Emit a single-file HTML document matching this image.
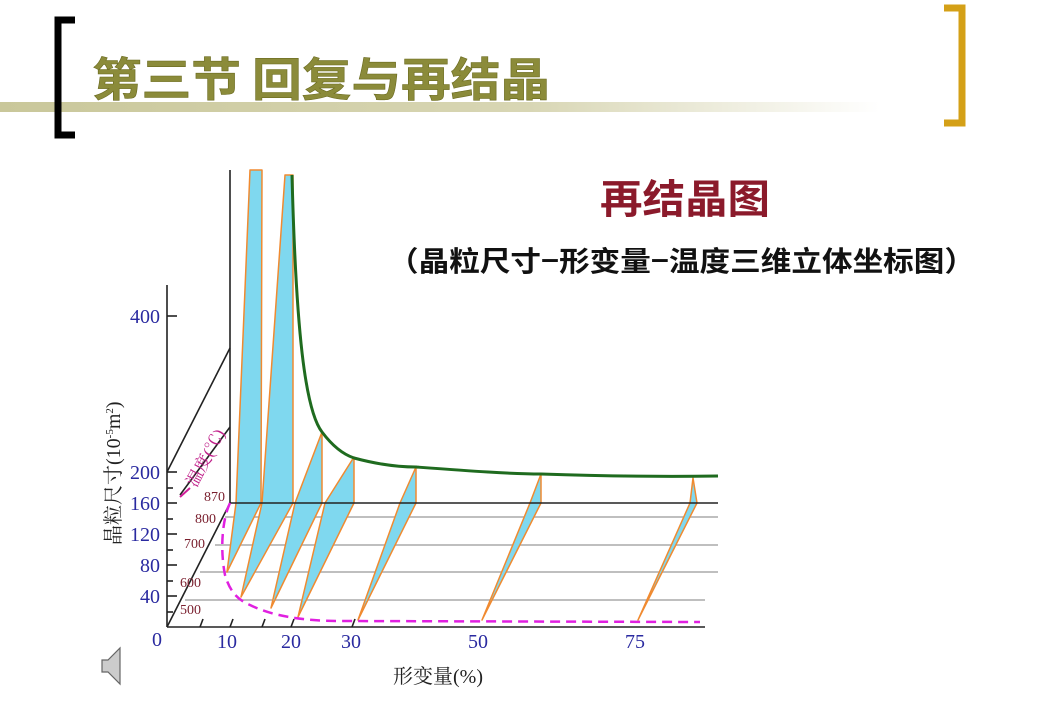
<!DOCTYPE html>
<html><head><meta charset="utf-8"><style>
body{margin:0;width:1040px;height:720px;background:#fff;overflow:hidden;font-family:"Liberation Serif","Noto Serif CJK SC",serif}
</style></head><body>
<svg width="1040" height="720" viewBox="0 0 1040 720" xmlns="http://www.w3.org/2000/svg">
<defs>
<linearGradient id="band" x1="0" x2="1" y1="0" y2="0">
<stop offset="0" stop-color="#c9c79a"/><stop offset="0.6" stop-color="#d8d6b4"/><stop offset="1" stop-color="#ffffff"/>
</linearGradient>
</defs>
<rect x="0" y="102" width="880" height="10" fill="url(#band)"/>
<path d="M75 20 H58 V135 H75" fill="none" stroke="#000" stroke-width="7"/>
<path d="M944 8 H962 V123 H944" fill="none" stroke="#d4a017" stroke-width="7"/>
<text x="92" y="96" font-family="'Noto Sans CJK SC',sans-serif" font-size="46" font-weight="bold" fill="#8b8b3a" stroke="#6b6b20" stroke-width="0.6" textLength="458" lengthAdjust="spacingAndGlyphs">第三节 回复与再结晶</text>
<text x="600" y="213" font-family="'Noto Sans CJK SC',sans-serif" font-size="40" font-weight="bold" fill="#8b1a2b" textLength="170" lengthAdjust="spacingAndGlyphs">再结晶图</text>
<text x="388" y="271" font-family="'Noto Sans CJK SC',sans-serif" font-size="28" font-weight="bold" fill="#111" textLength="587" lengthAdjust="spacingAndGlyphs">（晶粒尺寸−形变量−温度三维立体坐标图）</text>

<g stroke="#aaa" stroke-width="1.5">
<line x1="225" y1="517" x2="718" y2="517"/>
<line x1="215" y1="545" x2="718" y2="545"/>
<line x1="200" y1="572" x2="718" y2="572"/>
<line x1="185" y1="600" x2="705" y2="600"/>
</g>
<g fill="#7fd8ef" stroke="#f08a30" stroke-width="1.5" stroke-linejoin="round">
<polygon points="227,572 236,503 250,170 262,170 261,503"/>
<polygon points="241,597 262,503 285,175 293,175 293,503"/>
<polygon points="271,608 295,503 322,432 322,503"/>
<polygon points="298,617 325,503 354,457 354,503"/>
<polygon points="358,620 400,503 416,467 416,503"/>
<polygon points="482,620 530,503 541,474 541,503"/>
<polygon points="638,620 690,503 693,478 697,503"/>
</g>
<g stroke="#222" stroke-width="1.6" fill="none">
<line x1="167" y1="285" x2="167" y2="627"/>
<line x1="230" y1="170" x2="230" y2="503"/>
<line x1="230" y1="503" x2="718" y2="503"/>
<line x1="167" y1="627" x2="705" y2="627"/>
<line x1="167" y1="627" x2="230" y2="503"/>
<line x1="167" y1="472" x2="230" y2="348"/>
<line x1="180" y1="495" x2="230" y2="427"/>
<line x1="167" y1="316" x2="177" y2="316"/>
<line x1="167" y1="472" x2="177" y2="472"/>
<line x1="167" y1="488" x2="173" y2="488"/>
<line x1="167" y1="503" x2="177" y2="503"/>
<line x1="167" y1="519" x2="173" y2="519"/>
<line x1="167" y1="534" x2="177" y2="534"/>
<line x1="167" y1="550" x2="173" y2="550"/>
<line x1="167" y1="565" x2="177" y2="565"/>
<line x1="167" y1="581" x2="173" y2="581"/>
<line x1="167" y1="596" x2="177" y2="596"/>
<line x1="167" y1="612" x2="173" y2="612"/>
<line x1="200" y1="627" x2="203" y2="619"/>
<line x1="230" y1="627" x2="233" y2="619"/>
<line x1="262" y1="627" x2="265" y2="619"/>
<line x1="291" y1="627" x2="294" y2="619"/>
<line x1="352" y1="627" x2="355" y2="619"/>
</g>
<path d="M292 175 C296 330 305 410 322 432 C334 448 345 455 354 458 C380 465 400 467 416 467 C470 471 510 474 541 474 C600 476 650 477 718 476" fill="none" stroke="#1f6b1f" stroke-width="3"/>
<path d="M230 503 C222 520 220 550 225 575 C230 592 238 600 250 605 C270 615 300 621 340 621 L700 622" fill="none" stroke="#e020e0" stroke-width="2.5" stroke-dasharray="10,6"/>
<line x1="180" y1="497" x2="190" y2="488" stroke="#d0209a" stroke-width="2"/>
<g font-size="20" fill="#2a2aa0">
<text x="130" y="323">400</text>
<text x="130" y="479">200</text>
<text x="130" y="510">160</text>
<text x="130" y="541">120</text>
<text x="140" y="572">80</text>
<text x="140" y="603">40</text>
<text x="152" y="646">0</text>
<text x="217" y="648">10</text>
<text x="281" y="648">20</text>
<text x="341" y="648">30</text>
<text x="468" y="648">50</text>
<text x="625" y="648">75</text>
</g>
<g font-size="14" fill="#7a1f2e">
<text x="204" y="501">870</text>
<text x="195" y="523">800</text>
<text x="184" y="548">700</text>
<text x="180" y="587">600</text>
<text x="180" y="614">500</text>
</g>
<text transform="translate(196,488) rotate(-62)" font-size="17" fill="#c0208a">温度(℃)</text>
<text transform="translate(120,545) rotate(-90)" font-size="20" fill="#222">晶粒尺寸(10<tspan font-size="11" dy="-7">-5</tspan><tspan dy="7">m</tspan><tspan font-size="11" dy="-7">2</tspan><tspan dy="7">)</tspan></text>
<text x="393" y="683" font-size="20" fill="#222">形变量(%)</text>
<g fill="#ccc" stroke="#666" stroke-width="1.2">
<polygon points="102,660 108,660 120,648 120,684 108,672 102,672"/>
</g>
</svg>
</body></html>
